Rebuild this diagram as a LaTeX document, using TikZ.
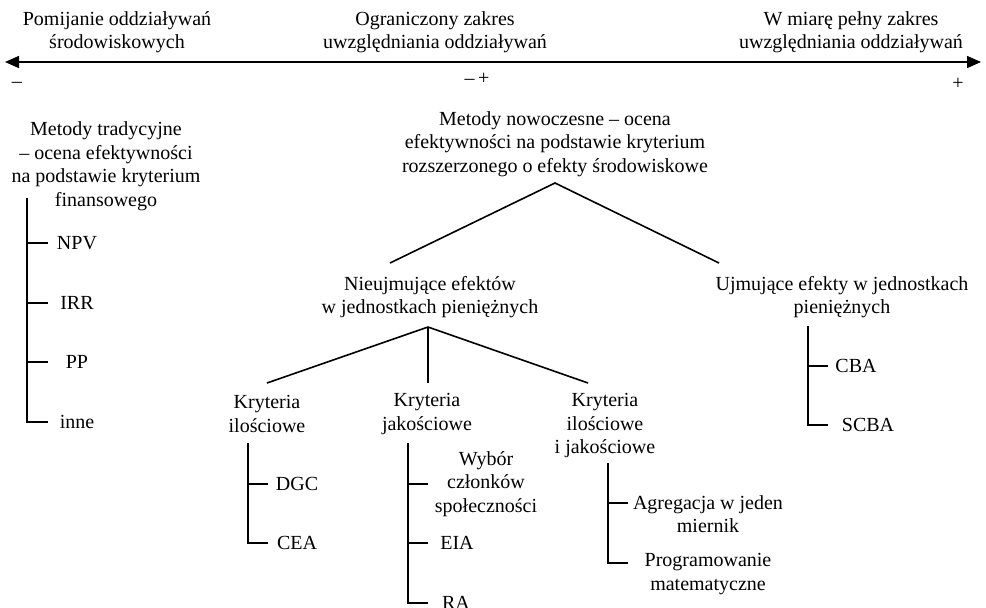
\documentclass[tikz,border=0pt]{standalone}
\usepackage{fontspec}
\setmainfont{Liberation Serif}
\usetikzlibrary{arrows.meta}
\begin{document}
\begin{tikzpicture}[x=1pt,y=-1pt,
  txt/.style={inner sep=0pt, align=center, font=\fontsize{20}{23.5}\selectfont},
  ln/.style={line width=1.6pt},
  every node/.style={txt}]
\useasboundingbox (0,0) rectangle (986,608);
% top scale
\node (top1) at (117,32) {Pomijanie oddziaływań\\środowiskowych};
\node (top2) at (435,32) {Ograniczony zakres\\uwzględniania oddziaływań};
\node (top3) at (851,32) {W miarę pełny zakres\\uwzględniania oddziaływań};
\coordinate (aL) at (5,62);
\coordinate (aR) at (981,62);
\draw[ln, {Triangle[length=14pt,width=12pt]}-{Triangle[length=14pt,width=12pt]}] (aL) -- (aR);
\node (mn) at (17,85) {–};
\node (mid) at (477,79) {–\,+};
\node (pl) at (958,84) {+};
% traditional
\node (trad) at (106,166) {Metody tradycyjne\\– ocena efektywności\\na podstawie kryterium\\finansowego};
\coordinate (tv0) at (27,198);
\node (npv) at (77,243) {NPV};
\node (irr) at (77,303) {IRR};
\node (pp) at (77,362) {PP};
\node (inne) at (77,422) {inne};
\draw[ln] (tv0) |- (inne.west -| 48,0);
\draw[ln] (tv0 |- npv) -- (48,0 |- npv);
\draw[ln] (tv0 |- irr) -- (48,0 |- irr);
\draw[ln] (tv0 |- pp) -- (48,0 |- pp);
% modern
\node (mod) at (555,144) {Metody nowoczesne – ocena\\efektywności na podstawie kryterium\\rozszerzonego o efekty środowiskowe};
\coordinate (apex) at (555,183);
\node (nie) at (430,297) {Nieujmujące efektów\\w jednostkach pieniężnych};
\node (ujm) at (842,297) {Ujmujące efekty w jednostkach\\pieniężnych};
\coordinate (nieT) at (390,263);
\coordinate (ujmT) at (719,263);
\draw[ln] (nieT) -- (apex) -- (ujmT);
% nieujmujace branches
\coordinate (n0) at (428,327);
\coordinate (k1T) at (267,383);
\coordinate (k2T) at (428,383);
\coordinate (k3T) at (588,383);
\draw[ln] (n0) -- (k1T);
\draw[ln] (n0) -- (k2T);
\draw[ln] (n0) -- (k3T);
\node (k1) at (267,414) {Kryteria\\ilościowe};
\node (k2) at (427,414) {Kryteria\\jakościowe};
\node (k3) at (605,426) {Kryteria\\ilościowe\\i jakościowe};
% ilosciowe list
\coordinate (v1) at (248,443);
\node (dgc) at (297,484) {DGC};
\node (cea) at (297,543) {CEA};
\draw[ln] (v1) |- (268,0 |- cea);
\draw[ln] (v1 |- dgc) -- (268,0 |- dgc);
% jakosciowe list
\coordinate (v2) at (408,443);
\node (wyb) at (486,484) {Wybór\\członków\\społeczności};
\node (eia) at (457,543) {EIA};
\node (ra) at (456,603) {RA};
\draw[ln] (v2) |- (428,603);
\draw[ln] (408,484) -- (428,484);
\draw[ln] (v2 |- eia) -- (428,0 |- eia);
% ilosciowe i jakosciowe list
\coordinate (v3) at (608,463);
\node (agr) at (708,514) {Agregacja w jeden\\miernik};
\node (prg) at (708,574) {Programowanie\\matematyczne};
\draw[ln] (v3) |- (628,563);
\draw[ln] (608,503) -- (628,503);
% ujmujace list
\coordinate (v4) at (808,326);
\node (cba) at (856,366) {CBA};
\node (scba) at (868,425) {SCBA};
\draw[ln] (v4) |- (828,0 |- scba);
\draw[ln] (v4 |- cba) -- (828,0 |- cba);
\end{tikzpicture}
\end{document}
